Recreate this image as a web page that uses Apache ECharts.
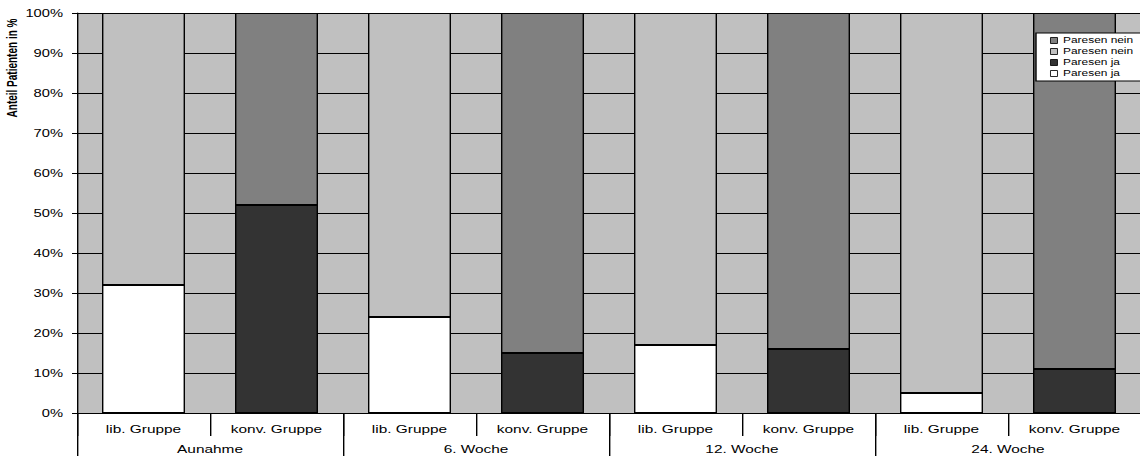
<!DOCTYPE html>
<html>
<head>
<meta charset="utf-8">
<script src="https://cdn.jsdelivr.net/npm/echarts@6/dist/echarts.min.js"></script>
<style>
  html, body { margin: 0; padding: 0; background: #ffffff; overflow: hidden; }
  #wrap { width: 1140px; height: 456px; overflow: hidden; }
  /* The chart is laid out narrow and widened, giving the broad lettering */
  #chart { height: 456px; transform-origin: 0 0; }
</style>
</head>
<body>
<div id="wrap"><div id="chart"></div></div>
<script>
// Groups on the lower axis row and the two bars drawn for each of them
const periods = ['Aunahme', '6. Woche', '12. Woche', '24. Woche'];
const groups = ['lib. Gruppe', 'konv. Gruppe'];

// Share of patients (%) per period
const libJa = [32, 24, 17, 5];
const libNein = [68, 76, 83, 95];
const konvJa = [52, 15, 16, 11];
const konvNein = [48, 85, 84, 89];

// Y-axis ticks
const yTicks = [0, 10, 20, 30, 40, 50, 60, 70, 80, 90, 100];

const legendText = {
  konvNein: 'Paresen nein',
  libNein: 'Paresen nein',
  konvJa: 'Paresen ja',
  libJa: 'Paresen ja'
};

const SX = 1.4;                 // horizontal widening factor
// Canvas is a little wider than the frame so the legend box runs past the edge
const W = (1140 + 30) / SX;
const el = document.getElementById('chart');
el.style.width = W + 'px';
el.style.transform = 'scaleX(' + SX + ')';

// One slot per bar: lib / konv alternating inside each period
const categories = [];
periods.forEach(() => groups.forEach(g => categories.push(g)));

function spread(values, slot) {
  const out = [];
  values.forEach(v => {
    for (let k = 0; k < groups.length; k++) out.push(k === slot ? v : null);
  });
  return out;
}

const font = "'Liberation Sans', Arial, sans-serif";
const border = { borderColor: '#000000', borderWidth: 1 };

function bar(name, data, color) {
  return {
    name: name,
    type: 'bar',
    stack: 'share',
    data: data,
    barCategoryGap: '37.6%',
    itemStyle: Object.assign({ color: color }, border),
    emphasis: { disabled: true }
  };
}

const chart = echarts.init(el, null, { renderer: 'svg' });
chart.setOption({
  animation: false,
  textStyle: { fontFamily: font },
  grid: {
    left: 77 / SX,
    top: 13,
    width: 1064 / SX,
    height: 400,
    show: true,
    backgroundColor: '#c0c0c0',
    borderWidth: 0
  },
  legend: {
    orient: 'vertical',
    left: 1036 / SX,
    top: 33,
    data: ['konvNein', 'libNein', 'konvJa', 'libJa'],
    formatter: n => legendText[n],
    icon: 'rect',
    itemWidth: 5,
    itemHeight: 6,
    itemGap: 0,
    itemStyle: { borderColor: '#000000', borderWidth: 0.7 },
    padding: [2, 6, 2, 10],
    backgroundColor: '#ffffff',
    borderColor: '#000000',
    borderWidth: 1,
    borderRadius: 0,
    textStyle: { fontFamily: font, fontSize: 8.5, color: '#000000', lineHeight: 11, width: 62, padding: [0, 0, 0, -1] },
    selectedMode: false
  },
  graphic: [{
    type: 'text',
    x: 12 / SX,
    y: 68,
    rotation: Math.PI / 2,
    style: {
      text: 'Anteil Patienten in %',
      font: 'bold 10px ' + font,
      fill: '#000000',
      align: 'center',
      verticalAlign: 'middle'
    }
  }],
  xAxis: [{
    type: 'category',
    data: categories,
    position: 'bottom',
    axisLine: { show: true, lineStyle: { color: '#000000', width: 1 } },
    axisTick: { show: true, length: 23, lineStyle: { color: '#000000' } },
    axisLabel: { margin: 11, fontSize: 11, color: '#000000', fontFamily: font, interval: 0 },
    splitLine: { show: false }
  }, {
    type: 'category',
    data: periods,
    position: 'bottom',
    axisLine: { show: false },
    axisTick: { show: true, length: 43, lineStyle: { color: '#000000' } },
    axisLabel: { margin: 31, fontSize: 11, color: '#000000', fontFamily: font, interval: 0 },
    splitLine: { show: false }
  }],
  yAxis: {
    type: 'value',
    min: yTicks[0],
    max: yTicks[yTicks.length - 1],
    interval: yTicks[1] - yTicks[0],
    axisLine: { show: true, lineStyle: { color: '#000000', width: 1 } },
    axisTick: { show: true, length: 5 / SX, lineStyle: { color: '#000000' } },
    axisLabel: { formatter: '{value}%', margin: 14 / SX, fontSize: 10.5, color: '#000000', fontFamily: font },
    splitLine: { show: true, lineStyle: { color: '#000000', width: 1 } }
  },
  series: [
    bar('libJa', spread(libJa, 0), '#ffffff'),
    bar('konvJa', spread(konvJa, 1), '#333333'),
    bar('libNein', spread(libNein, 0), '#c0c0c0'),
    bar('konvNein', spread(konvNein, 1), '#808080')
  ]
});
</script>
</body>
</html>
